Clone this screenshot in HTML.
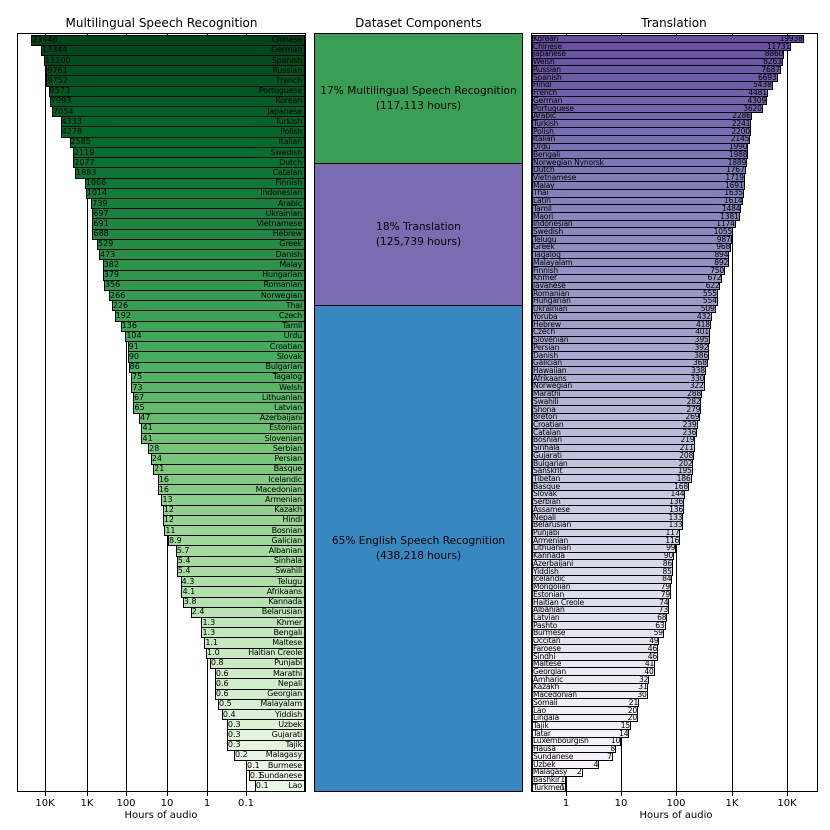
<!DOCTYPE html>
<html><head><meta charset="utf-8">
<style>
body{margin:0;width:830px;height:830px;background:#fff;position:relative;overflow:hidden;font-family:"DejaVu Sans","Liberation Sans",sans-serif;color:#000}
.t{position:absolute;font-size:12px;text-align:center;top:16px}
.ax{position:absolute;top:33px;height:759px;border:1px solid #000;box-sizing:border-box}
.rows{position:absolute;left:0;right:0;top:1px}
.rows p{margin:0;position:relative}
.rows b,.rows u{position:absolute;font-weight:normal;text-decoration:none;white-space:nowrap;z-index:2;line-height:1}
.bar{position:absolute;border:1px solid #000;box-sizing:border-box;z-index:1}
.g{position:absolute;top:0;bottom:0;width:1px;background:#000;z-index:0}
.tk{position:absolute;top:792px;width:1px;height:4px;background:#000}
.tl{position:absolute;top:798px;font-size:10px;width:40px;text-align:center}
.xl{position:absolute;top:810px;font-size:10px;width:120px;text-align:center}
.mid div{position:absolute;left:0;right:0;box-sizing:border-box;border:1px solid #000;display:flex;align-items:center;justify-content:center;text-align:center;font-size:10.6px;line-height:15px}
</style></head><body>
<div class="t" style="left:18px;width:287px">Multilingual Speech Recognition</div>
<div class="t" style="left:314px;width:209px">Dataset Components</div>
<div class="t" style="left:531px;width:286px">Translation</div>

<div class="ax" id="L" style="left:17px;width:289px"><div class="rows" id="LR">
<p><b>23446</b><u>Chinese</u></p><p><b>13344</b><u>German</u></p><p><b>11100</b><u>Spanish</u></p><p><b>9761</b><u>Russian</u></p><p><b>9752</b><u>French</u></p><p><b>8573</b><u>Portuguese</u></p><p><b>7993</b><u>Korean</u></p><p><b>7054</b><u>Japanese</u></p><p><b>4333</b><u>Turkish</u></p><p><b>4278</b><u>Polish</u></p><p><b>2585</b><u>Italian</u></p><p><b>2119</b><u>Swedish</u></p><p><b>2077</b><u>Dutch</u></p><p><b>1883</b><u>Catalan</u></p><p><b>1066</b><u>Finnish</u></p><p><b>1014</b><u>Indonesian</u></p><p><b>739</b><u>Arabic</u></p><p><b>697</b><u>Ukrainian</u></p><p><b>691</b><u>Vietnamese</u></p><p><b>688</b><u>Hebrew</u></p><p><b>529</b><u>Greek</u></p><p><b>473</b><u>Danish</u></p><p><b>382</b><u>Malay</u></p><p><b>379</b><u>Hungarian</u></p><p><b>356</b><u>Romanian</u></p><p><b>266</b><u>Norwegian</u></p><p><b>226</b><u>Thai</u></p><p><b>192</b><u>Czech</u></p><p><b>136</b><u>Tamil</u></p><p><b>104</b><u>Urdu</u></p><p><b>91</b><u>Croatian</u></p><p><b>90</b><u>Slovak</u></p><p><b>86</b><u>Bulgarian</u></p><p><b>75</b><u>Tagalog</u></p><p><b>73</b><u>Welsh</u></p><p><b>67</b><u>Lithuanian</u></p><p><b>65</b><u>Latvian</u></p><p><b>47</b><u>Azerbaijani</u></p><p><b>41</b><u>Estonian</u></p><p><b>41</b><u>Slovenian</u></p><p><b>28</b><u>Serbian</u></p><p><b>24</b><u>Persian</u></p><p><b>21</b><u>Basque</u></p><p><b>16</b><u>Icelandic</u></p><p><b>16</b><u>Macedonian</u></p><p><b>13</b><u>Armenian</u></p><p><b>12</b><u>Kazakh</u></p><p><b>12</b><u>Hindi</u></p><p><b>11</b><u>Bosnian</u></p><p><b>8.9</b><u>Galician</u></p><p><b>5.7</b><u>Albanian</u></p><p><b>5.4</b><u>Sinhala</u></p><p><b>5.4</b><u>Swahili</u></p><p><b>4.3</b><u>Telugu</u></p><p><b>4.1</b><u>Afrikaans</u></p><p><b>3.8</b><u>Kannada</u></p><p><b>2.4</b><u>Belarusian</u></p><p><b>1.3</b><u>Khmer</u></p><p><b>1.3</b><u>Bengali</u></p><p><b>1.1</b><u>Maltese</u></p><p><b>1.0</b><u>Haitian Creole</u></p><p><b>0.8</b><u>Punjabi</u></p><p><b>0.6</b><u>Marathi</u></p><p><b>0.6</b><u>Nepali</u></p><p><b>0.6</b><u>Georgian</u></p><p><b>0.5</b><u>Malayalam</u></p><p><b>0.4</b><u>Yiddish</u></p><p><b>0.3</b><u>Uzbek</u></p><p><b>0.3</b><u>Gujarati</u></p><p><b>0.3</b><u>Tajik</u></p><p><b>0.2</b><u>Malagasy</u></p><p><b>0.1</b><u>Burmese</u></p><p><b>0.1</b><u>Sundanese</u></p><p><b>0.1</b><u>Lao</u></p>
</div></div>

<div class="mid" style="position:absolute;left:314px;width:209px;top:33px;height:759px">
<div style="top:0;height:131px;background:#3a9f56">17% Multilingual Speech Recognition<br>(117,113 hours)</div>
<div style="top:130px;height:143px;background:#7b6bb1">18% Translation<br>(125,739 hours)</div>
<div style="top:272px;height:487px;background:#3787c0">65% English Speech Recognition<br>(438,218 hours)</div>
</div>

<div class="ax" id="R" style="left:531px;width:287px"><div class="rows" id="RR">
<p><u>Korean</u><b>19938</b></p><p><u>Chinese</u><b>11731</b></p><p><u>Japanese</u><b>8860</b></p><p><u>Welsh</u><b>8263</b></p><p><u>Russian</u><b>7687</b></p><p><u>Spanish</u><b>6693</b></p><p><u>Hindi</u><b>5438</b></p><p><u>French</u><b>4481</b></p><p><u>German</u><b>4309</b></p><p><u>Portuguese</u><b>3620</b></p><p><u>Arabic</u><b>2286</b></p><p><u>Turkish</u><b>2241</b></p><p><u>Polish</u><b>2200</b></p><p><u>Italian</u><b>2145</b></p><p><u>Urdu</u><b>1990</b></p><p><u>Bengali</u><b>1988</b></p><p><u>Norwegian Nynorsk</u><b>1889</b></p><p><u>Dutch</u><b>1767</b></p><p><u>Vietnamese</u><b>1719</b></p><p><u>Malay</u><b>1691</b></p><p><u>Thai</u><b>1635</b></p><p><u>Latin</u><b>1614</b></p><p><u>Tamil</u><b>1484</b></p><p><u>Maori</u><b>1381</b></p><p><u>Indonesian</u><b>1174</b></p><p><u>Swedish</u><b>1055</b></p><p><u>Telugu</u><b>987</b></p><p><u>Greek</u><b>968</b></p><p><u>Tagalog</u><b>894</b></p><p><u>Malayalam</u><b>892</b></p><p><u>Finnish</u><b>750</b></p><p><u>Khmer</u><b>672</b></p><p><u>Javanese</u><b>622</b></p><p><u>Romanian</u><b>555</b></p><p><u>Hungarian</u><b>554</b></p><p><u>Ukrainian</u><b>509</b></p><p><u>Yoruba</u><b>432</b></p><p><u>Hebrew</u><b>418</b></p><p><u>Czech</u><b>401</b></p><p><u>Slovenian</u><b>395</b></p><p><u>Persian</u><b>392</b></p><p><u>Danish</u><b>386</b></p><p><u>Galician</u><b>368</b></p><p><u>Hawaiian</u><b>338</b></p><p><u>Afrikaans</u><b>330</b></p><p><u>Norwegian</u><b>322</b></p><p><u>Marathi</u><b>288</b></p><p><u>Swahili</u><b>282</b></p><p><u>Shona</u><b>279</b></p><p><u>Breton</u><b>269</b></p><p><u>Croatian</u><b>239</b></p><p><u>Catalan</u><b>236</b></p><p><u>Bosnian</u><b>219</b></p><p><u>Sinhala</u><b>211</b></p><p><u>Gujarati</u><b>208</b></p><p><u>Bulgarian</u><b>202</b></p><p><u>Sanskrit</u><b>195</b></p><p><u>Tibetan</u><b>186</b></p><p><u>Basque</u><b>168</b></p><p><u>Slovak</u><b>144</b></p><p><u>Serbian</u><b>136</b></p><p><u>Assamese</u><b>136</b></p><p><u>Nepali</u><b>133</b></p><p><u>Belarusian</u><b>133</b></p><p><u>Punjabi</u><b>117</b></p><p><u>Armenian</u><b>116</b></p><p><u>Lithuanian</u><b>99</b></p><p><u>Kannada</u><b>90</b></p><p><u>Azerbaijani</u><b>86</b></p><p><u>Yiddish</u><b>85</b></p><p><u>Icelandic</u><b>84</b></p><p><u>Mongolian</u><b>79</b></p><p><u>Estonian</u><b>79</b></p><p><u>Haitian Creole</u><b>74</b></p><p><u>Albanian</u><b>73</b></p><p><u>Latvian</u><b>68</b></p><p><u>Pashto</u><b>63</b></p><p><u>Burmese</u><b>59</b></p><p><u>Occitan</u><b>49</b></p><p><u>Faroese</u><b>46</b></p><p><u>Sindhi</u><b>46</b></p><p><u>Maltese</u><b>41</b></p><p><u>Georgian</u><b>40</b></p><p><u>Amharic</u><b>32</b></p><p><u>Kazakh</u><b>31</b></p><p><u>Macedonian</u><b>30</b></p><p><u>Somali</u><b>21</b></p><p><u>Lao</u><b>20</b></p><p><u>Lingala</u><b>20</b></p><p><u>Tajik</u><b>15</b></p><p><u>Tatar</u><b>14</b></p><p><u>Luxembourgish</u><b>10</b></p><p><u>Hausa</u><b>8</b></p><p><u>Sundanese</u><b>7</b></p><p><u>Uzbek</u><b>4</b></p><p><u>Malagasy</u><b>2</b></p><p><u>Bashkir</u><b>1</b></p><p><u>Turkmen</u><b>1</b></p>
</div></div>

<div class="tl" style="left:25px">10K</div><div class="tl" style="left:67px">1K</div><div class="tl" style="left:106px">100</div><div class="tl" style="left:147px">10</div><div class="tl" style="left:187px">1</div><div class="tl" style="left:226px">0.1</div>
<div class="tl" style="left:546px">1</div><div class="tl" style="left:601px">10</div><div class="tl" style="left:656px">100</div><div class="tl" style="left:712px">1K</div><div class="tl" style="left:767px">10K</div>
<div class="xl" style="left:101px">Hours of audio</div>
<div class="xl" style="left:616px">Hours of audio</div>

<script>
function lerp(stops,t){t=Math.max(0,Math.min(1,t));var n=stops.length-1,i=Math.min(n-1,Math.floor(t*n)),f=t*n-i;var a=stops[i],b=stops[i+1];return 'rgb('+[0,1,2].map(function(k){return Math.round(a[k]+(b[k]-a[k])*f)}).join(',')+')';}
function hx(h){return [parseInt(h.substr(1,2),16),parseInt(h.substr(3,2),16),parseInt(h.substr(5,2),16)];}
var G=['#f7fcf5','#e5f5e0','#c7e9c0','#a1d99b','#74c476','#41ab5d','#238b45','#006d2c','#00441b'].map(hx);
var P=['#fcfbfd','#efedf5','#dadaeb','#bcbddc','#9e9ac8','#807dba','#6a51a3','#54278f','#3f007d'].map(hx);
function grid(ax,xs,off){xs.forEach(function(x){var d=document.createElement('div');d.className='g';d.style.left=(x-off)+'px';ax.appendChild(d);var t=document.createElement('div');t.className='tk';t.style.left=x+'px';document.body.appendChild(t);});}
grid(document.getElementById('L'),[45,87,126,167,207,246],18);
grid(document.getElementById('R'),[566,621,676,732,787],532);
var rows=document.querySelectorAll('#LR p'),n=rows.length,h=757/n;
var ov={'Lao':0.06,'Sundanese':0.085};
rows.forEach(function(p,i){p.style.height=h+'px';var b=p.querySelector('b'),u=p.querySelector('u');var v=parseFloat(b.textContent);if(ov[u.textContent])v=ov[u.textContent];
var x=246-40*Math.log10(v/0.1)-18;var bar=document.createElement('div');bar.className='bar';bar.style.left=x+'px';bar.style.right='0px';bar.style.top='-0.5px';bar.style.height=(h+1)+'px';bar.style.background=lerp(G,1-0.92*i/(n-1));p.appendChild(bar);
b.style.left=(x+1)+'px';b.style.fontSize='8px';b.style.top=(h-8)/2+'px';u.style.right='3px';u.style.fontSize='8px';u.style.top=(h-8)/2+'px';u.style.letterSpacing='-0.2px';});
var rr=document.querySelectorAll('#RR p'),m=rr.length,hr=757/m;
rr.forEach(function(p,i){p.style.height=hr+'px';var b=p.querySelector('b'),u=p.querySelector('u');var v=parseFloat(b.textContent);var w=566+55.3*Math.log10(v)-532;
var bar=document.createElement('div');bar.className='bar';bar.style.left='0px';bar.style.width=w+'px';bar.style.top='-0.5px';bar.style.height=(hr+1)+'px';bar.style.background=lerp(P,0.76-0.72*i/(m-1));p.appendChild(bar);
b.style.right=(285-w+1)+'px';b.style.fontSize='7.6px';b.style.top=(hr-7.6)/2+'px';b.style.letterSpacing='-0.2px';u.style.left='1px';u.style.fontSize='7.6px';u.style.top=(hr-7.6)/2+'px';u.style.letterSpacing='-0.2px';});
</script>
</body></html>
